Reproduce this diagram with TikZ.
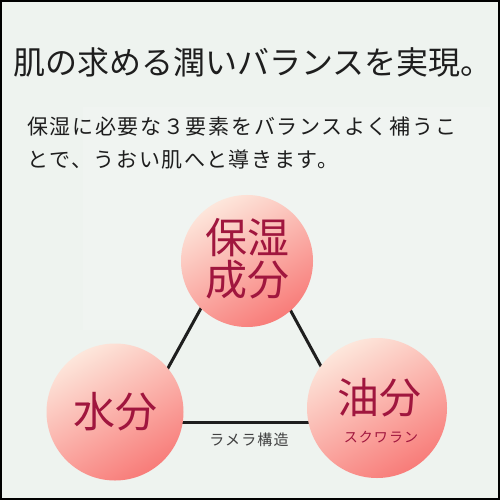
\documentclass[tikz,border=0pt]{standalone}
\usepackage{fontspec}
\setmainfont{Noto Sans CJK JP}
\newfontfamily\jpsp[LetterSpace=8]{Noto Sans CJK JP}
\definecolor{bgc}{HTML}{EEF3EF}
\definecolor{inkc}{HTML}{1E1E1E}
\definecolor{redtxt}{HTML}{A0163E}
\definecolor{ballA}{HTML}{FDE6DB}
\definecolor{ballB}{HTML}{FBB9AD}
\definecolor{ballC}{HTML}{F87C79}
\tikzset{
  ball/.style={circle, minimum size=#1, inner sep=0pt, top color=ballA, middle color=ballB, bottom color=ballC, shading angle=30},
  link/.style={draw=inkc, line width=3bp},
  big/.style={text=redtxt, font=\fontsize{42bp}{46bp}\selectfont, inner sep=0pt},
}
\begin{document}
\begin{tikzpicture}[x=1bp,y=-1bp]
\fill[bgc] (0,0) rectangle (500,500);
\useasboundingbox (0,0) rectangle (500,500);
% faint lighter panel behind text
\fill[white, opacity=0.15] (83,107) rectangle (490,330);
% title
\node[anchor=west, inner sep=0pt, text=inkc, font=\fontsize{32bp}{37bp}\selectfont] (title) at (13,62) {肌の求める潤いバランスを実現。};
\node[anchor=west, inner sep=0pt, text=inkc, font=\jpsp\fontsize{21bp}{26bp}\selectfont] (l1) at (27,127) {保湿に必要な３要素をバランスよく補うこ};
\node[anchor=west, inner sep=0pt, text=inkc, font=\jpsp\fontsize{21bp}{26bp}\selectfont] (l2) at (27,160) {とで、うおい肌へと導きます。};
% connector ends
\coordinate (tl1) at (232,252);
\coordinate (tl2) at (152,397);
\coordinate (tr1) at (263,260);
\coordinate (tr2) at (335,392);
\coordinate (b1) at (130,422);
\coordinate (b2) at (360,422);
\draw[link] (tl1) -- (tl2);
\draw[link] (tr1) -- (tr2);
\draw[link] (b1) -- (b2);
% circles
\node[ball=132bp] (top) at (247,261) {};
\node[ball=137bp] (left) at (115,412) {};
\node[ball=140bp] (right) at (377,408) {};
\node[big] (t1) at (247,238) {保湿};
\node[big] (t2) at (247,280) {成分};
\node[big] (w) at (115,412) {水分};
\node[big] (o) at (379,398) {油分};
\node[text=redtxt, inner sep=0pt, font=\jpsp\fontsize{14bp}{16bp}\selectfont] (sq) at (381,437) {スクワラン};
\node[text=inkc!85, inner sep=0pt, font=\jpsp\fontsize{15bp}{17bp}\selectfont] (lam) at (249,440) {ラメラ構造};
% frame
\draw[black, line width=2bp] (1,1) rectangle (499,499);
\end{tikzpicture}
\end{document}
